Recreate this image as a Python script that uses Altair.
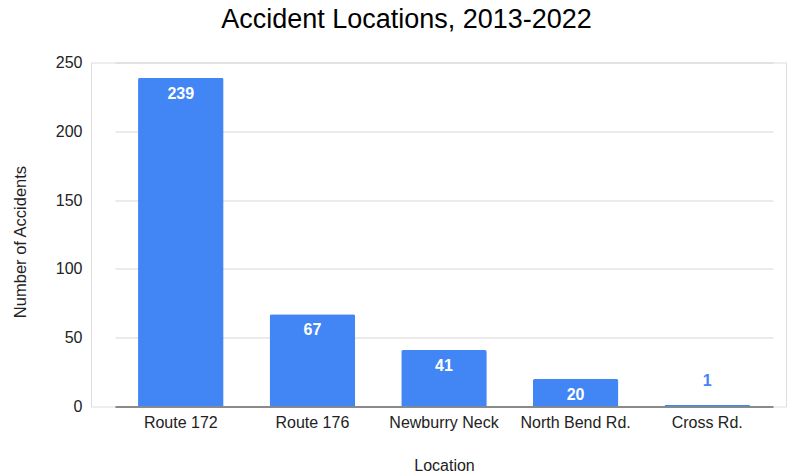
import altair as alt
import pandas as pd

locations = ["Route 172", "Route 176", "Newburry Neck", "North Bend Rd.", "Cross Rd."]
accidents = [239, 67, 41, 20, 1]

df = pd.DataFrame({"Location": locations, "Accidents": accidents})

FONT = "Liberation Sans, Arial, Helvetica, sans-serif"
BLUE = "#4285F4"

x_enc = alt.X(
    "Location:N",
    sort=locations,
    scale=alt.Scale(range=[24, 682], paddingInner=0.35, paddingOuter=0.175),
    axis=alt.Axis(
        title="Location",
        labelAngle=0,
        labelFontSize=16,
        labelColor="#222222",
        labelFont=FONT,
        labelPadding=8,
        ticks=False,
        domainColor="#333333",
        domainWidth=1,
        titleFontSize=16,
        titleFont=FONT,
        titleFontWeight="normal",
        titleColor="#222222",
        titleBaseline="alphabetic",
        titleY=63.5,
        grid=False,
    ),
)

y_enc = alt.Y(
    "Accidents:Q",
    scale=alt.Scale(domain=[0, 250], nice=False),
    axis=alt.Axis(
        title="Number of Accidents",
        values=[0, 50, 100, 150, 200, 250],
        labelFontSize=16,
        labelColor="#222222",
        labelFont=FONT,
        labelPadding=9,
        ticks=False,
        domain=False,
        gridColor="#d6d6d6",
        gridWidth=1,
        titleFontSize=16.5,
        titleFont=FONT,
        titleFontWeight="normal",
        titleColor="#222222",
        titleX=-63,
        titleY=179,
    ),
)

bars = alt.Chart(df).mark_bar(
    color=BLUE, cornerRadiusTopLeft=2, cornerRadiusTopRight=2
).encode(x=x_enc, y=y_enc)

inside = alt.Chart(df).transform_filter("datum.Accidents >= 10").mark_text(
    color="white", font=FONT, fontSize=16, fontWeight="bold",
    baseline="alphabetic", dy=21
).encode(x=alt.X("Location:N", sort=locations), y="Accidents:Q", text="Accidents:Q")

outside = alt.Chart(df).transform_filter("datum.Accidents < 10").mark_text(
    color=BLUE, font=FONT, fontSize=16, fontWeight="bold",
    baseline="alphabetic", dy=-19
).encode(x=alt.X("Location:N", sort=locations), y="Accidents:Q", text="Accidents:Q")

chart = alt.layer(bars, inside, outside).properties(
    width=695,
    height=344,
    autosize="none",
    padding={"left": 91, "top": 62.5, "right": 1, "bottom": 67.5},
    title=alt.TitleParams(
        "Accident Locations, 2013-2022",
        font=FONT,
        fontSize=27,
        fontWeight="normal",
        color="#000000",
        anchor="middle",
        frame="group",
        dx=-32,
        dy=28,
        baseline="bottom",
        offset=22,
    ),
).configure_view(stroke=None).configure(background="white")

chart.save("out.html", embed_options={"renderer": "svg", "actions": False})
